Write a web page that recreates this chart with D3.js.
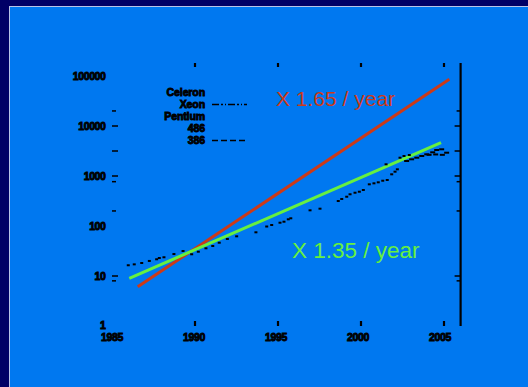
<!DOCTYPE html>
<html>
<head>
<meta charset="utf-8">
<script src="https://cdn.jsdelivr.net/npm/d3@7"></script>
<style>
  html, body { margin: 0; padding: 0; background: #000066; }
  svg { display: block; }
</style>
</head>
<body>
<svg id="chart" width="528" height="387"></svg>
<script>
// Processor performance over time (log scale), with two growth-rate trend lines.

const yearTicks = [1985, 1990, 1995, 2000, 2005];
const valueTicks = [1, 10, 100, 1000, 10000, 100000];
const valueTickLabels = ["1", "10", "100", "1000", "10000", "100000"];
// minor tick marks along the value axes: [value, length]
const minorTicks = [[20000, 3], [10000, 5], [3162, 5], [1000, 5], [770, 3], [200, 3], [10, 5], [8, 3]];

const legendNames = ["Celeron", "Xeon", "Pentium", "486", "386"];
const legendDash = [null, "7,2,2,2,1,2", null, null, "6,3"];

// measured performance points: [year, relative performance]
const series386 = [[1985.98, 16.4], [1986.34, 17.1], [1986.79, 18.2], [1987.25, 20.0], [1987.69, 21.6],
  [1987.85, 22.9], [1988.13, 23.7], [1988.73, 27.5], [1989.28, 31.6]];
const series486 = [[1989.80, 27.2], [1990.20, 30.6], [1990.66, 35.8], [1991.07, 39.8], [1991.46, 46.3],
  [1991.95, 55.0], [1992.51, 62.2]];
const seriesPentium = [[1993.67, 74.8], [1994.32, 97.7], [1994.62, 104.7], [1995.12, 116.4], [1995.36, 121.9],
  [1995.62, 136.1], [1995.77, 142.6], [1996.93, 206], [1997.53, 222], [1998.63, 316], [1998.84, 347],
  [1999.14, 385], [1999.34, 431], [1999.64, 463], [1999.90, 485], [2000.14, 525], [2000.50, 682],
  [2000.78, 714], [2001.04, 748], [2001.31, 805], [2001.58, 832], [2001.85, 1081], [2002.05, 1219],
  [2002.19, 1361]];
const seriesCeleron = [[2001.51, 1714], [2002.35, 2323], [2002.59, 2512], [2002.91, 2630]];
const seriesXeon = [[2002.75, 1995], [2003.05, 2158], [2003.36, 2323], [2003.66, 2512], [2003.96, 2716],
  [2004.32, 2979], [2004.56, 3311], [2004.86, 3420], [2005.16, 2924], [2004.1, 2650], [2004.5, 2700], [2004.9, 2650]];

// trend lines: [[startYear, startValue], [endYear, endValue]]
const trendFast = [[1986.55, 6.1], [2005.32, 85900]];
const trendSlow = [[1986.04, 9.0], [2004.82, 4634]];
const trendLabels = ["X 1.65 / year", "X 1.35 / year"];

const svg = d3.select("#chart");

// panel
svg.append("rect").attr("x", 0).attr("y", 0).attr("width", 528).attr("height", 387).attr("fill", "#000066");
svg.append("rect").attr("x", 9.5).attr("y", 6.5).attr("width", 530).attr("height", 390)
  .attr("fill", "#0078F0").attr("stroke", "#B8C4E8").attr("stroke-width", 1);

const x = d3.scaleLinear().domain([1985, 2006]).range([112, 460.6]);
const y = d3.scaleLog().domain([1, 100000]).range([326, 76]);
const yTop = 63;

const ink = "#000";

// right axis line
svg.append("line").attr("x1", x(2006)).attr("x2", x(2006)).attr("y1", yTop).attr("y2", y(1))
  .attr("stroke", ink).attr("stroke-width", 2.2);

// value ticks on both sides
const tickG = svg.append("g");
minorTicks.forEach(([v, len]) => {
  tickG.append("line").attr("x1", 112).attr("x2", 112 + len + 1).attr("y1", y(v)).attr("y2", y(v))
    .attr("stroke", ink).attr("stroke-width", 1.5);
  tickG.append("line").attr("x1", x(2006) - len - 1).attr("x2", x(2006)).attr("y1", y(v)).attr("y2", y(v))
    .attr("stroke", ink).attr("stroke-width", 1.5);
});

// year ticks top and bottom
yearTicks.slice(1).forEach(yr => {
  tickG.append("line").attr("x1", x(yr)).attr("x2", x(yr)).attr("y1", yTop).attr("y2", yTop + 4)
    .attr("stroke", ink).attr("stroke-width", 2.2);
  tickG.append("line").attr("x1", x(yr)).attr("x2", x(yr)).attr("y1", y(1) - 5).attr("y2", y(1))
    .attr("stroke", ink).attr("stroke-width", 2.2);
});

const labelFont = "'Liberation Sans', Arial, sans-serif";

// value labels
svg.append("g").selectAll("text").data(valueTicks).join("text")
  .attr("x", 105.5)
  .attr("y", (d, i) => y(d) - (i === 0 ? 1 : 0) + 0.5)
  .attr("dy", "0.36em")
  .attr("text-anchor", "end")
  .attr("font-family", labelFont).attr("font-weight", "bold").attr("font-size", 10.5)
  .attr("letter-spacing", -0.4)
  .attr("fill", ink).attr("stroke", ink).attr("stroke-width", 0.9)
  .text((d, i) => valueTickLabels[i]);

// year labels
svg.append("g").selectAll("text").data(yearTicks).join("text")
  .attr("x", d => x(d) - (d - 1985) * 0.2)
  .attr("y", 337)
  .attr("dy", "0.36em")
  .attr("text-anchor", "middle")
  .attr("font-family", labelFont).attr("font-weight", "bold").attr("font-size", 10.5)
  .attr("letter-spacing", -0.4)
  .attr("fill", ink).attr("stroke", ink).attr("stroke-width", 0.9)
  .text(d => d);

// legend
const legend = svg.append("g");
legendNames.forEach((name, i) => {
  const ly = 92.5 + i * 12;
  legend.append("text").attr("x", 205).attr("y", ly).attr("dy", "0.36em")
    .attr("text-anchor", "end")
    .attr("font-family", labelFont).attr("font-weight", "bold").attr("font-size", 10.5)
    .attr("letter-spacing", -0.1)
    .attr("fill", ink).attr("stroke", ink).attr("stroke-width", 0.9)
    .text(name);
  if (legendDash[i]) {
    legend.append("line").attr("x1", 212).attr("x2", 247).attr("y1", ly).attr("y2", ly)
      .attr("stroke", ink).attr("stroke-width", 1.4).attr("stroke-dasharray", legendDash[i]);
  }
});

// trend lines
const line = d3.line().x(d => x(d[0])).y(d => y(d[1]));
svg.append("path").datum(trendFast).attr("d", line)
  .attr("stroke", "#CC3A18").attr("stroke-width", 3).attr("fill", "none");
svg.append("path").datum(trendSlow).attr("d", line)
  .attr("stroke", "#66F040").attr("stroke-width", 3).attr("fill", "none");

// data points
const allSeries = [series386, series486, seriesPentium, seriesCeleron, seriesXeon];
const pts = svg.append("g");
allSeries.forEach((s, si) => {
  pts.selectAll(null).data(s).join("rect")
    .attr("x", d => x(d[0]) - (si === 4 ? 2.5 : 1.5))
    .attr("y", d => y(d[1]) - 1)
    .attr("width", si === 4 ? 5 : 3)
    .attr("height", 2)
    .attr("fill", ink);
});

// growth-rate annotations
svg.append("text").attr("x", 276).attr("y", 106)
  .attr("font-family", "'Liberation Sans', Arial, sans-serif").attr("font-size", 21)
  .attr("fill", "#CC3A18").text(trendLabels[0]);
svg.append("text").attr("x", 292).attr("y", 258)
  .attr("font-family", "'Liberation Sans', Arial, sans-serif").attr("font-size", 22.5)
  .attr("fill", "#66F040").text(trendLabels[1]);
</script>
</body>
</html>
